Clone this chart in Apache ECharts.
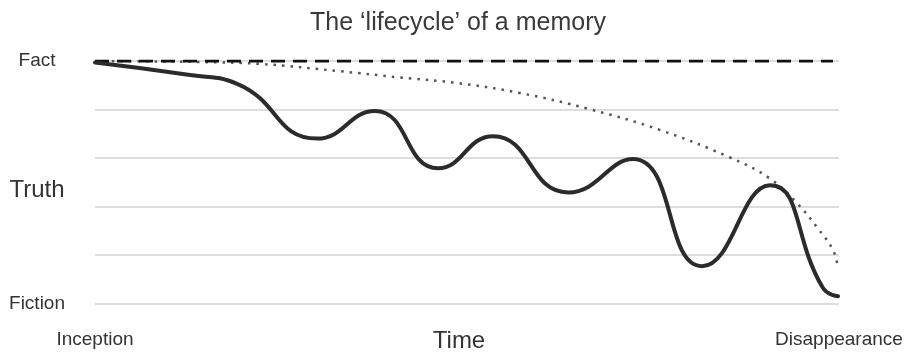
<!DOCTYPE html>
<html>
<head>
<meta charset="utf-8">
<script src="https://cdn.jsdelivr.net/npm/echarts@6/dist/echarts.min.js"></script>
<style>
  html, body { margin: 0; padding: 0; background: #ffffff; }
  #chart { width: 916px; height: 356px; }
</style>
</head>
<body>
<div id="chart"></div>
<script>
// Time runs 0 (inception) .. 100 (disappearance); truth runs 0 (fiction) .. 5 (fact).
const timeTicks = ['Inception', 'Disappearance'];
const truthTicks = ['Fiction', 'Fact'];

// Recalled memory: drifts away from fact, oscillating ever more wildly
const memoryTime  = [0, 12.77, 19.1, 29.84, 37.63, 46.10, 53.49, 63.58, 72.31, 81.59, 90.73, 97.85, 99.87];
const memoryTruth = [4.97, 4.71, 4.53, 3.40, 3.97, 2.79, 3.45, 2.29, 2.98, 0.77, 2.44, 0.32, 0.15];

// Gradual fading envelope
const fadeTime  = [0, 8.7, 14.1, 22.2, 32.9, 41.0, 48.5, 57.1, 66.4, 75.9, 85.2, 90.6, 94.35, 97.0, 99.2, 99.87];
const fadeTruth = [5.0, 4.99, 4.98, 4.94, 4.79, 4.66, 4.55, 4.34, 4.01, 3.58, 3.02, 2.59, 2.07, 1.58, 1.10, 0.73];

// The original fact, constant over time
const factTime  = [0, 99.2];
const factTruth = [5, 5];

const zip = (xs, ys) => xs.map((x, i) => [x, ys[i]]);

const FONT = '"Liberation Sans", Arial, sans-serif';
const TEXT = '#333333';

const chart = echarts.init(document.getElementById('chart'), null, { renderer: 'canvas' });

chart.setOption({
  animation: false,
  backgroundColor: '#ffffff',
  title: {
    text: 'The \u2018lifecycle\u2019 of a memory',
    left: 'center',
    top: 6,
    textStyle: { fontFamily: FONT, fontSize: 25, fontWeight: 'normal', color: '#3a3a3a' }
  },
  grid: { left: 95, right: 77, top: 61, bottom: 52.5, containLabel: false, outerBoundsMode: 'none' },
  xAxis: {
    type: 'value',
    min: 0,
    max: 100,
    interval: 100,
    name: '{n|Time}',
    nameLocation: 'middle',
    nameGap: 26,
    nameMoveOverlap: false,
    nameTextStyle: {
      fontFamily: FONT, fontSize: 24, color: TEXT,
      rich: { n: { fontFamily: FONT, fontSize: 24, color: TEXT, padding: [0, 16, 0, 0] } }
    },
    axisLine: { show: false },
    axisTick: { show: false },
    splitLine: { show: false },
    axisLabel: {
      margin: 27,
      fontFamily: FONT,
      fontSize: 19,
      color: TEXT,
      hideOverlap: false,
      formatter: v => (v === 0 ? timeTicks[0] : v === 100 ? timeTicks[1] : '')
    }
  },
  yAxis: {
    type: 'value',
    min: 0,
    max: 5,
    interval: 1,
    name: '{n|Truth}',
    nameLocation: 'middle',
    nameRotate: 0,
    nameGap: 58,
    nameMoveOverlap: false,
    nameTextStyle: {
      fontFamily: FONT, fontSize: 24, color: TEXT, align: 'center',
      rich: { n: { fontFamily: FONT, fontSize: 24, color: TEXT, padding: [16, 0, 0, 0] } }
    },
    axisLine: { show: false },
    axisTick: { show: false },
    splitLine: { show: true, lineStyle: { color: '#d2d2d2', width: 1.5 } },
    axisLabel: {
      margin: 58,
      align: 'center',
      fontFamily: FONT,
      fontSize: 19,
      color: TEXT,
      formatter: v => (v === 0 ? truthTicks[0] : v === 5 ? truthTicks[1] : '')
    }
  },
  series: [
    {
      name: 'Fact',
      type: 'line',
      data: zip(factTime, factTruth),
      showSymbol: false,
      lineStyle: { color: '#111111', width: 3, type: [14, 8] },
      z: 3
    },
    {
      name: 'Fading',
      type: 'line',
      data: zip(fadeTime, fadeTruth),
      smooth: 0.4,
      showSymbol: false,
      lineStyle: { color: '#555555', width: 2.5, type: [2.5, 6] },
      z: 2
    },
    {
      name: 'Memory',
      type: 'line',
      data: zip(memoryTime, memoryTruth),
      smooth: 0.5,
      showSymbol: false,
      lineStyle: { color: '#2b2b2b', width: 4, cap: 'round' },
      z: 4
    }
  ]
});
</script>
</body>
</html>
